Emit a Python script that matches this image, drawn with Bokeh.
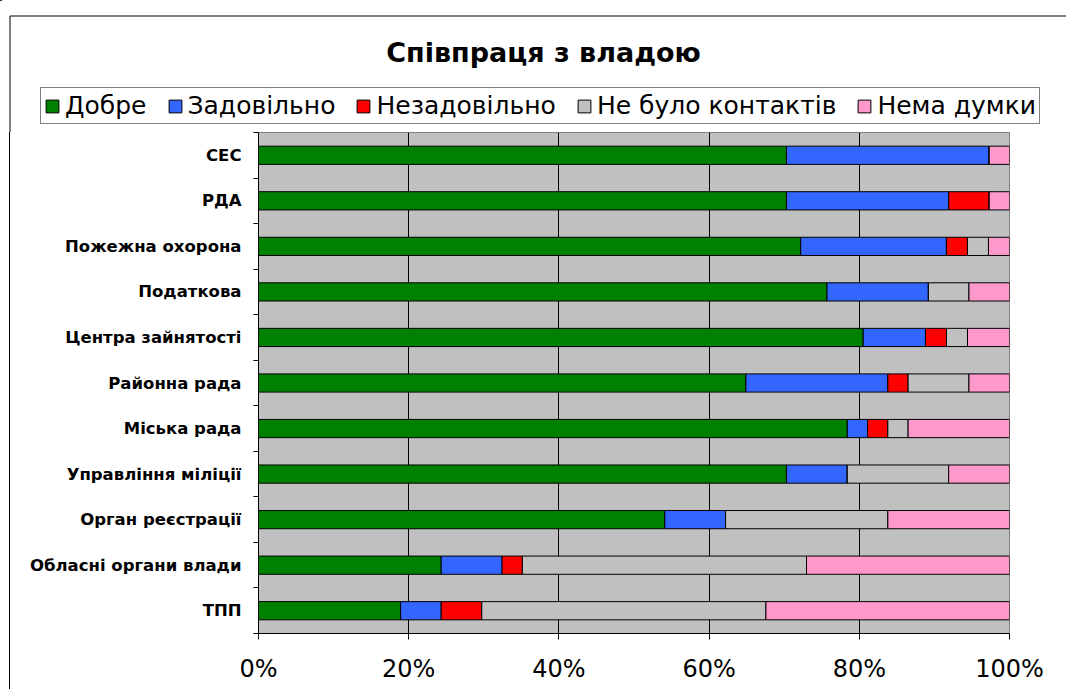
from bokeh.plotting import figure
from bokeh.layouts import column, row
from bokeh.models import (Range1d, FixedTicker, PrintfTickFormatter, Legend, LegendItem,
                          Label, ColumnDataSource)
from bokeh.embed import file_html
from bokeh.resources import INLINE

title_text = "Співпраця з владою"
categories = ["СЕС", "РДА", "Пожежна охорона", "Податкова", "Центра зайнятості",
              "Районна рада", "Міська рада", "Управління міліції", "Орган реєстрації",
              "Обласні органи влади", "ТПП"]
series_names = ["Добре", "Задовільно", "Незадовільно", "Не було контактів", "Нема думки"]
dobre = [70.3, 70.3, 72.2, 75.7, 80.6, 64.9, 78.4, 70.3, 54.1, 24.3, 18.9]
zadovilno = [27.0, 21.6, 19.4, 13.5, 8.3, 18.9, 2.7, 8.1, 8.1, 8.1, 5.4]
nezadovilno = [0.0, 5.4, 2.8, 0.0, 2.8, 2.7, 2.7, 0.0, 0.0, 2.7, 5.4]
ne_bulo = [0.0, 0.0, 2.8, 5.4, 2.8, 8.1, 2.7, 13.5, 21.6, 37.8, 37.8]
nema_dumky = [2.7, 2.7, 2.8, 5.4, 5.6, 5.4, 13.5, 8.1, 16.2, 27.0, 32.4]
x_ticks = [0, 20, 40, 60, 80, 100]
colors = ["#008000", "#3366FF", "#FF0000", "#C0C0C0", "#FF99CC"]

series = [dobre, zadovilno, nezadovilno, ne_bulo, nema_dumky]
n = len(categories)
totals = [sum(s[i] for s in series) for i in range(n)]
centers = [i + 0.5 for i in range(n)]

FONT = "DejaVu Sans"
W, H = 1066, 689
HEAD_H = 132
MAIN_H = H - HEAD_H

# ---------------- header: title, legend, chart-area border ----------------
head = figure(width=W, height=HEAD_H, output_backend="svg", toolbar_location=None,
              x_range=Range1d(0, W), y_range=Range1d(HEAD_H, 0),
              x_axis_location=None, y_axis_location=None,
              min_border_left=0, min_border_right=0, min_border_top=0, min_border_bottom=0)
head.grid.visible = False
head.outline_line_color = None
head.background_fill_color = "white"
head.border_fill_color = "white"
head.segment(x0=[9.5, 9.5], y0=[15.5, 15.5], x1=[W, 9.5], y1=[15.5, HEAD_H],
             line_color="#000000", line_width=1)

head_renderers = []
for col in colors:
    # off-screen placeholder bars: only used to draw the legend swatches
    r = head.hbar(y=[-1000], left=[0], right=[1], height=1, fill_color=col,
                  line_color="#000000", line_width=1)
    head_renderers.append(r)

legend = Legend(items=[LegendItem(label=nm, renderers=[r])
                       for nm, r in zip(series_names, head_renderers)],
                orientation="horizontal", location=(40, 8),
                label_text_font=FONT, label_text_font_size="25px",
                label_text_color="#000000",
                glyph_width=16, glyph_height=16, label_standoff=5, spacing=20,
                padding=3, margin=0, border_line_color="#000000",
                background_fill_color="white", background_fill_alpha=1.0)
head.add_layout(legend, "center")

head.add_layout(Label(x=543, y=52, text=title_text, text_align="center",
                      text_baseline="middle", text_font=FONT, text_font_style="bold",
                      text_font_size="27px", text_color="#000000"))

# ---------------- main chart ----------------
p = figure(width=W, height=MAIN_H, output_backend="svg", toolbar_location=None,
           x_range=Range1d(0, 100), y_range=Range1d(n, 0),
           min_border_left=258, min_border_right=57, min_border_top=0,
           min_border_bottom=56)
p.background_fill_color = "#C0C0C0"
p.border_fill_color = None
p.outline_line_color = "#808080"
# left edge of the chart-area border continues down the page
p.styles = {
    "background-color": "white",
    "background-image": "linear-gradient(#000000, #000000)",
    "background-position": "9px 0px",
    "background-size": "1px 100%",
    "background-repeat": "no-repeat",
}

left = [0.0] * n
for vals, col in zip(series, colors):
    pct = [v * 100.0 / t for v, t in zip(vals, totals)]
    right = [l + v for l, v in zip(left, pct)]
    src = ColumnDataSource(dict(y=centers, left=left, right=right))
    p.hbar(y="y", left="left", right="right", height=0.4, source=src,
           fill_color=col, line_color="#000000", line_width=1)
    left = right

xa = p.xaxis[0]
xa.ticker = FixedTicker(ticks=x_ticks)
xa.formatter = PrintfTickFormatter(format="%d%%")
xa.major_tick_out = 6
xa.major_tick_in = 0
xa.minor_tick_line_color = None
xa.axis_line_color = "#000000"
xa.major_tick_line_color = "#000000"
xa.major_label_text_font = FONT
xa.major_label_text_font_size = "24px"
xa.major_label_text_color = "#000000"
xa.major_label_standoff = 15

ya = p.yaxis[0]
ya.ticker = FixedTicker(ticks=centers, minor_ticks=list(range(n + 1)))
ya.major_label_overrides = {c: lab for c, lab in zip(centers, categories)}
ya.major_tick_out = 0
ya.major_tick_in = 0
ya.minor_tick_out = 5
ya.minor_tick_in = 0
ya.minor_tick_line_color = "#000000"
ya.axis_line_color = "#000000"
ya.major_label_text_font = FONT
ya.major_label_text_font_style = "bold"
ya.major_label_text_font_size = "16.5px"
ya.major_label_text_color = "#000000"
ya.major_label_standoff = 12

p.xgrid.grid_line_color = "#000000"
p.xgrid.grid_line_width = 1
p.ygrid.grid_line_color = None

# nesting the header in its own row keeps its frame from being aligned to the chart's
layout = column(row(head, spacing=0), p, spacing=0)

open("out.html", "w").write(file_html(layout, INLINE))
